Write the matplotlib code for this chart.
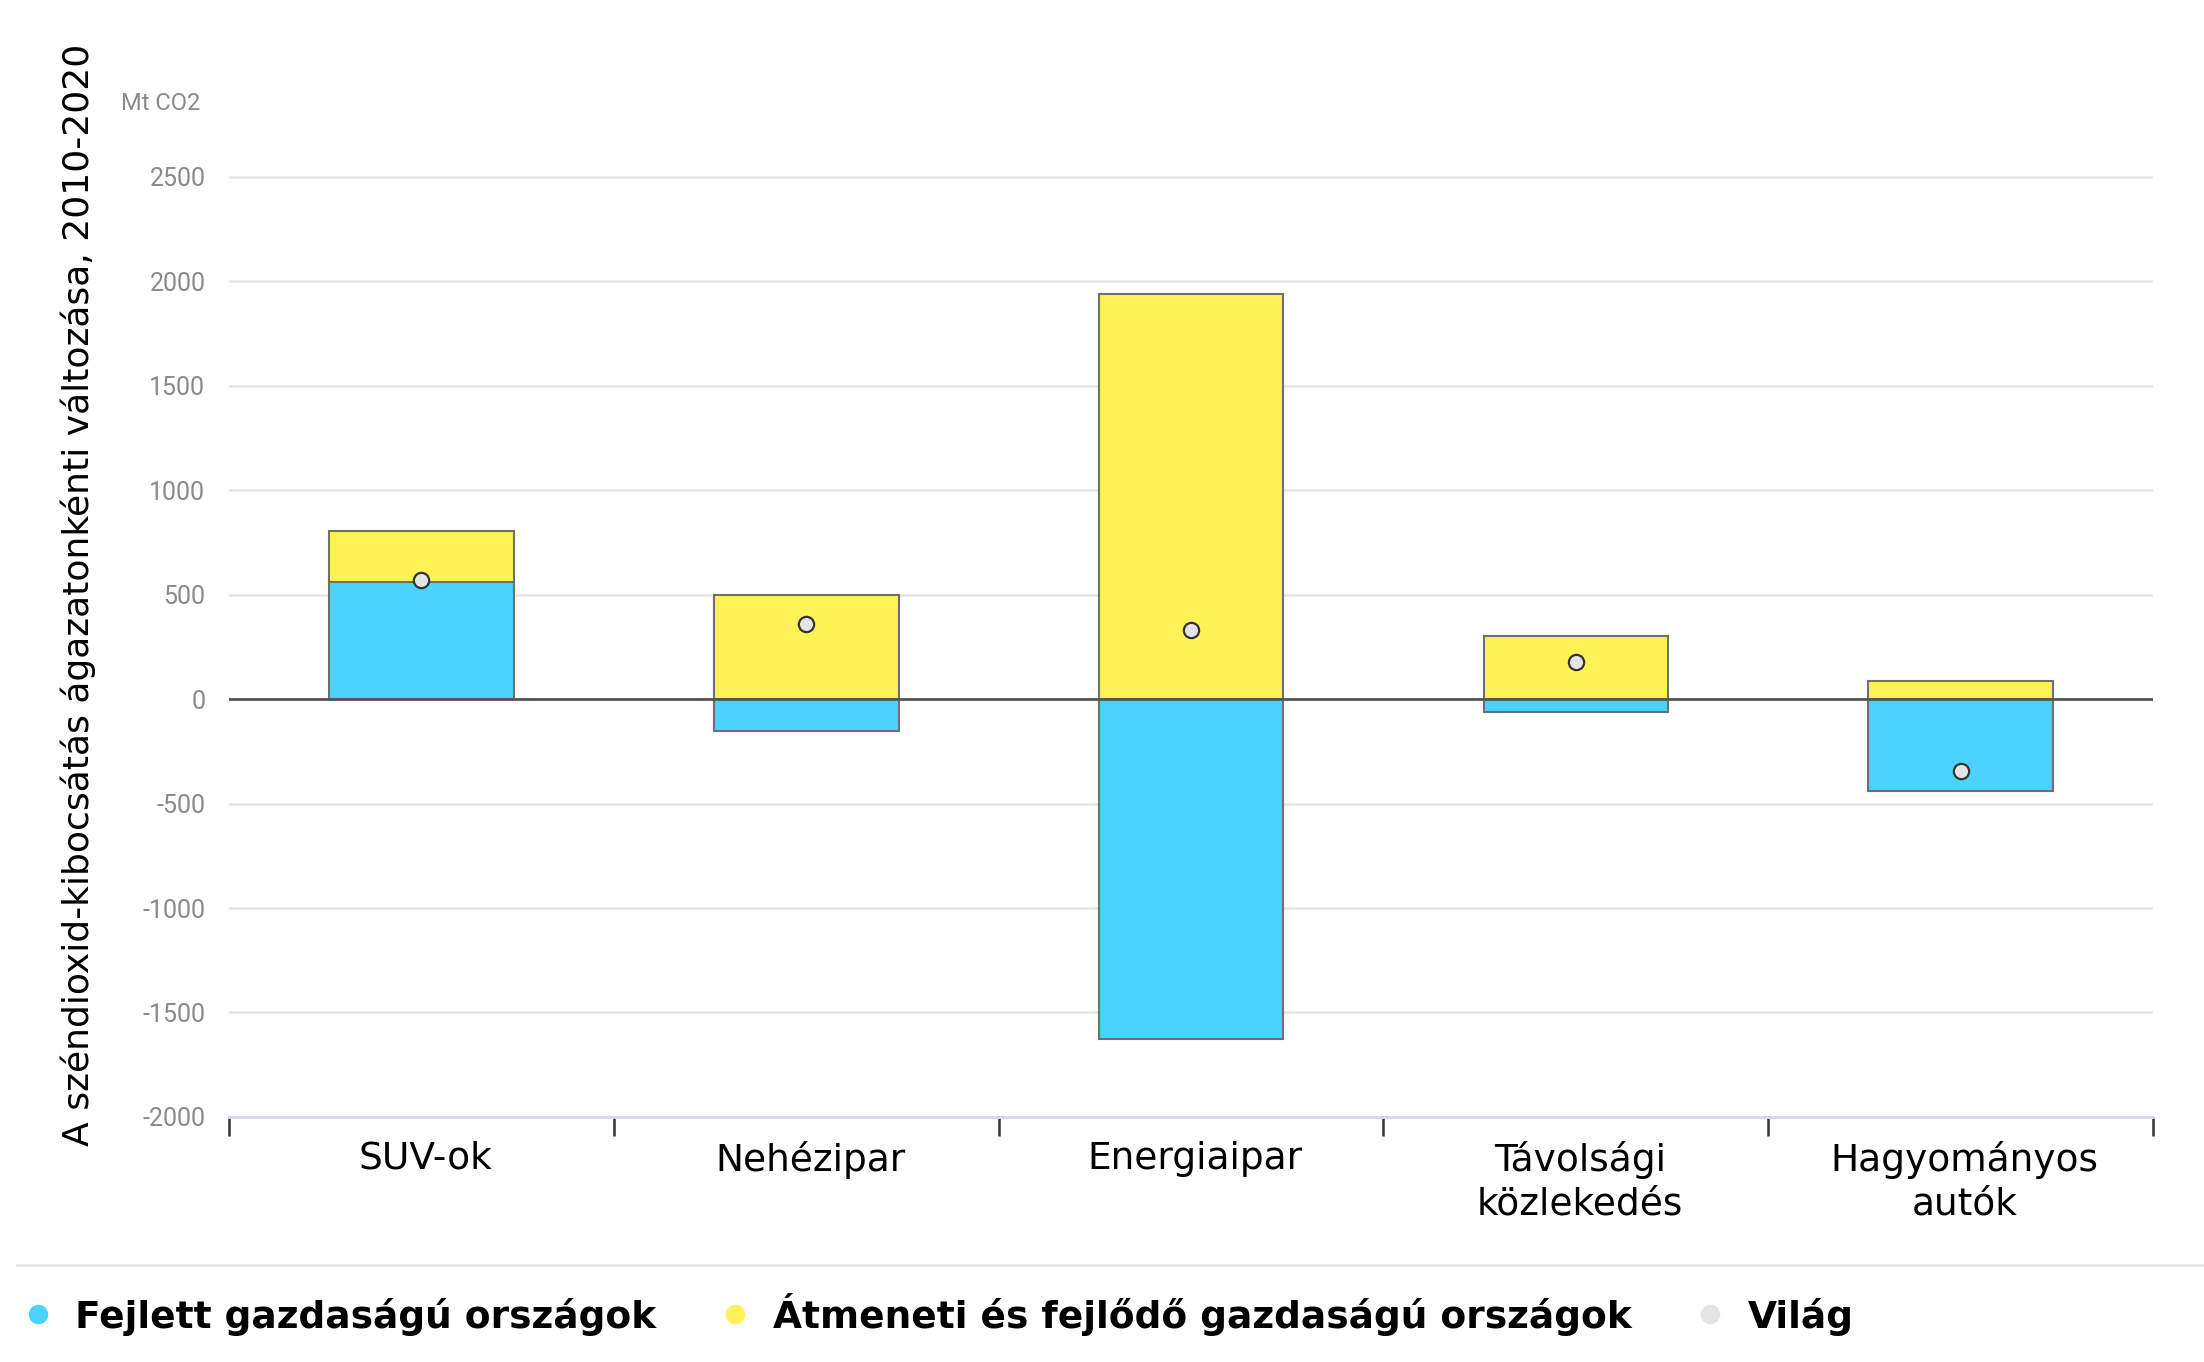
import numpy as np
import matplotlib.pyplot as plt
from matplotlib.lines import Line2D

categories = ['SUV-ok', 'Nehézipar', 'Energiaipar', 'Távolsági\nközlekedés', 'Hagyományos\nautók']
fejlett = [561, -155, -1628, -61, -439]
atmeneti = [243, 500, 1939, 304, 88]
vilag = [568, 358, 331, 176, -345]
yticks = [-2000, -1500, -1000, -500, 0, 500, 1000, 1500, 2000, 2500]

c_blue = '#4AD3FF'
c_yellow = '#FFF257'
c_gray = '#E4E4E4'

fig = plt.figure(figsize=(22.04, 13.62), dpi=100)
ax = fig.add_axes([0.1039, 0.1799, 0.873, 0.7518])

x = np.arange(len(categories))
fejlett = np.array(fejlett)
ybot = np.maximum(fejlett, 0)

ax.bar(x, fejlett, width=0.48, color=c_blue, edgecolor='#6f6f6f', linewidth=1.5, zorder=3)
ax.bar(x, atmeneti, bottom=ybot, width=0.48, color=c_yellow, edgecolor='#6f6f6f', linewidth=1.5, zorder=3)
ax.plot(x, vilag, 'o', ms=11, mfc=c_gray, mec='#333333', mew=1.6, zorder=5, ls='none')
ax.axhline(0, color='#555555', lw=2, zorder=4)

ax.set_xlim(-0.5, len(categories) - 0.5)
ax.set_ylim(-2000, 2900)
ax.set_yticks(yticks)
ax.set_yticklabels([str(v) for v in yticks], color='#8a8a8a', fontsize=18,
                   family=['Liberation Sans Narrow', 'Roboto', 'DejaVu Sans'])
ax.tick_params(axis='y', length=0, pad=17)
ax.grid(axis='y', color='#e6e6e6', lw=1.8, zorder=0)

# category ticks sit on the boundaries, labels in the middle
ax.set_xticks(np.arange(len(categories) + 1) - 0.5)
ax.set_xticklabels([])
ax.set_xticks(x + 0.01, minor=True)
ax.set_xticklabels(categories, minor=True, fontsize=27, linespacing=1.3)
ax.tick_params(axis='x', which='major', length=14, width=1.8, color='#333333', direction='out')
ax.tick_params(axis='x', which='minor', length=0, pad=17)

for s in ['top', 'right', 'left']:
    ax.spines[s].set_visible(False)
ax.spines['bottom'].set_color('#d3dae8')
ax.spines['bottom'].set_linewidth(2)

ax.set_ylabel('A széndioxid-kibocsátás ágazatonkénti változása, 2010-2020', fontsize=26)
ax.yaxis.set_label_coords(-0.069, 0.51)
fig.text(200 / 2204, 1 - 103 / 1362, 'Mt CO2', ha='right', va='center', color='#8a8a8a', fontsize=17,
         family=['Liberation Sans Narrow', 'Roboto', 'DejaVu Sans'])

# legend separator and entries
fig.add_artist(Line2D([17 / 2204, 1.0], [1 - 1265 / 1362] * 2, color='#e6e6e6', lw=2))
handles = [Line2D([], [], marker='o', ls='none', ms=13, mfc=c, mec=c) for c in [c_blue, c_yellow, c_gray]]
labels = ['Fejlett gazdaságú országok', 'Átmeneti és fejlődő gazdaságú országok', 'Világ']
fig.legend(handles, labels, loc='center left', bbox_to_anchor=(19 / 2204, 1 - 1314 / 1362), ncol=3,
           frameon=False, prop={'size': 27, 'weight': 'bold'}, handlelength=1.0, handletextpad=0.5,
           columnspacing=1.6, borderpad=0, borderaxespad=0)

plt.savefig('out.png', dpi=100)
